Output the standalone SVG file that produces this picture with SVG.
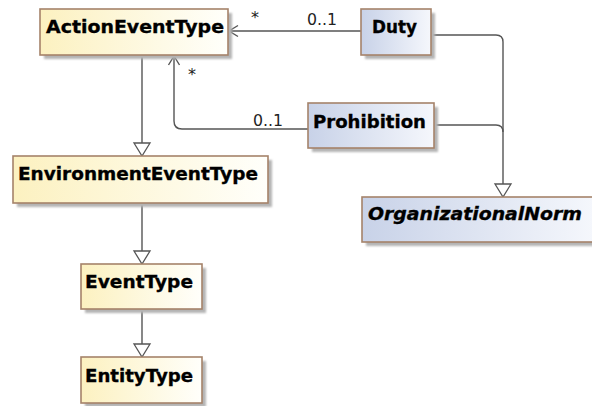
<svg xmlns="http://www.w3.org/2000/svg" width="592" height="406" viewBox="0 0 592 406">
<defs>
<linearGradient id="gy" x1="0" y1="0" x2="1" y2="0">
<stop offset="0" stop-color="#fcf1c0"/>
<stop offset="1" stop-color="#fffffb"/>
</linearGradient>
<linearGradient id="gb" x1="0" y1="0" x2="1" y2="0">
<stop offset="0" stop-color="#c8d2e8"/>
<stop offset="1" stop-color="#f5f7fc"/>
</linearGradient>
<filter id="sh" x="-10%" y="-20%" width="120%" height="140%">
<feGaussianBlur stdDeviation="1"/>
</filter>
<style>
.shadow{fill:#b4b4b4;filter:url(#sh)}
.box{stroke:#a5836a;stroke-width:1.6}
.y{fill:url(#gy)}
.b{fill:url(#gb)}
.name{font-family:"DejaVu Sans",sans-serif;font-weight:bold;font-size:18.5px;fill:#000;stroke:#000;stroke-width:0.35}
.it{font-style:italic}
.lbl{font-family:"DejaVu Sans",sans-serif;font-size:16px;fill:#222}
.ln{fill:none;stroke:#555;stroke-width:1.4}
.tri{fill:#fff;stroke:#555;stroke-width:1.3}
</style>
</defs>

<g id="connectors">
<!-- Duty to ActionEventType -->
<path class="ln" d="M361,31 H229"/>
<path class="ln" d="M238,25.5 L229,31 L238,36.5"/>
<text class="lbl" x="251" y="23">*</text>
<text class="lbl" x="307" y="25" textLength="30" lengthAdjust="spacingAndGlyphs">0..1</text>
<!-- Prohibition to ActionEventType -->
<path class="ln" d="M308,129 H182 Q174,129 174,121 V56"/>
<path class="ln" d="M168.5,65 L174,56 L179.5,65"/>
<text class="lbl" x="188" y="80">*</text>
<text class="lbl" x="253" y="126" textLength="30" lengthAdjust="spacingAndGlyphs">0..1</text>
<!-- generalizations left column -->
<path class="ln" d="M142,55 V143"/>
<polygon class="tri" points="134,143 150,143 142,156"/>
<path class="ln" d="M142,203 V251"/>
<polygon class="tri" points="134,251 150,251 142,264"/>
<path class="ln" d="M142,309 V344"/>
<polygon class="tri" points="134,344 150,344 142,357"/>
<!-- Duty/Prohibition to OrganizationalNorm -->
<path class="ln" d="M431,35 H496 Q503,35 503,42 V184"/>
<path class="ln" d="M434,125 H496 Q503,125 503,132"/>
<polygon class="tri" points="495,184 511,184 503,197"/>
</g>

<g id="ActionEventType">
<rect class="shadow" x="44" y="13" width="188" height="46"/>
<rect class="box y" x="40" y="9" width="188" height="46"/>
<text class="name" x="46" y="33" textLength="178" lengthAdjust="spacingAndGlyphs">ActionEventType</text>
</g>

<g id="EnvironmentEventType">
<rect class="shadow" x="17" y="160" width="255" height="47"/>
<rect class="box y" x="13" y="156" width="255" height="47"/>
<text class="name" x="18" y="180" textLength="240" lengthAdjust="spacingAndGlyphs">EnvironmentEventType</text>
</g>

<g id="EventType">
<rect class="shadow" x="85" y="268" width="121" height="45"/>
<rect class="box y" x="81" y="264" width="121" height="45"/>
<text class="name" x="85" y="288" textLength="108" lengthAdjust="spacingAndGlyphs">EventType</text>
</g>

<g id="EntityType">
<rect class="shadow" x="85" y="361" width="121" height="46"/>
<rect class="box y" x="81" y="357" width="121" height="46"/>
<text class="name" x="85" y="382" textLength="108" lengthAdjust="spacingAndGlyphs">EntityType</text>
</g>

<g id="Duty">
<rect class="shadow" x="365" y="13" width="70" height="46"/>
<rect class="box b" x="361" y="9" width="70" height="46"/>
<text class="name" x="372" y="33" textLength="45" lengthAdjust="spacingAndGlyphs">Duty</text>
</g>

<g id="Prohibition">
<rect class="shadow" x="312" y="107" width="126" height="45"/>
<rect class="box b" x="308" y="103" width="126" height="45"/>
<text class="name" x="313" y="128" textLength="113" lengthAdjust="spacingAndGlyphs">Prohibition</text>
</g>

<g id="OrganizationalNorm">
<rect class="shadow" x="366" y="201" width="232" height="45"/>
<rect class="box b" x="362" y="197" width="232" height="45"/>
<text class="name it" x="368" y="220" textLength="214" lengthAdjust="spacingAndGlyphs">OrganizationalNorm</text>
</g>
</svg>
